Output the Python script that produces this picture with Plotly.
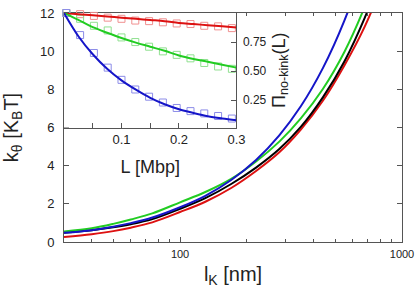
import plotly.graph_objects as go

# ---- main panel data: k_theta vs l_K ----
lk = [30, 40, 50, 60, 75, 100, 130, 170, 220, 280, 350, 440, 550, 680, 850]
k_red = [0.26, 0.41, 0.57, 0.75, 1.03, 1.57, 2.11, 2.83, 3.72, 4.70, 5.89, 7.40, 9.25, 11.3, 14.0]
k_black = [0.49, 0.62, 0.77, 0.93, 1.20, 1.74, 2.30, 3.04, 3.90, 4.87, 6.03, 7.58, 9.46, 11.76, 14.7]
k_green = [0.55, 0.72, 0.95, 1.18, 1.50, 2.08, 2.62, 3.31, 4.22, 5.26, 6.48, 8.02, 9.96, 12.34, 15.4]
k_blue = [0.48, 0.62, 0.80, 0.99, 1.28, 1.82, 2.42, 3.25, 4.30, 5.59, 7.11, 9.11, 11.6, 14.6, 18.4]

# ---- inset data: Pi_no-kink vs L ----
L_line = [0, 0.025, 0.05, 0.075, 0.1, 0.125, 0.15, 0.175, 0.2, 0.225, 0.25, 0.275, 0.3]
pi_blue = [1.0, 0.80, 0.645, 0.52, 0.42, 0.34, 0.27, 0.215, 0.172, 0.14, 0.112, 0.093, 0.078]
pi_green = [1.0, 0.94, 0.878, 0.83, 0.785, 0.745, 0.71, 0.675, 0.635, 0.605, 0.58, 0.555, 0.53]
pi_red = [1.0, 0.99, 0.98, 0.97, 0.96, 0.95, 0.94, 0.93, 0.915, 0.905, 0.895, 0.885, 0.875]

L_sim = [0.004, 0.028, 0.052, 0.076, 0.1, 0.124, 0.148, 0.172, 0.196, 0.22, 0.244, 0.268, 0.292]
sim_blue = [1.0, 0.81, 0.656, 0.53, 0.425, 0.342, 0.28, 0.23, 0.183, 0.156, 0.136, 0.114, 0.092]
sim_green = [1.0, 0.95, 0.89, 0.85, 0.79, 0.75, 0.71, 0.67, 0.64, 0.61, 0.57, 0.54, 0.52]
sim_red = [1.0, 0.99, 0.975, 0.96, 0.95, 0.935, 0.93, 0.92, 0.91, 0.905, 0.89, 0.885, 0.87]

x_major = [100, 1000]
x_minor = [40, 50, 60, 70, 80, 90, 200, 300, 400, 500, 600, 700, 800, 900]

RED, BLACK, GREEN, BLUE = "#dd1111", "#000000", "#22cc22", "#1515c8"
LRED, LGREEN, LBLUE = "#f09090", "#90e090", "#8c8ce8"
AX = "#555555"
FONT = "Liberation Sans, Arial, sans-serif"

fig = go.Figure()

for y, c in [(k_red, RED), (k_black, BLACK), (k_green, GREEN), (k_blue, BLUE)]:
    fig.add_trace(go.Scatter(x=lk, y=y, mode="lines", line=dict(color=c, width=2, shape="spline"),
                             showlegend=False, xaxis="x", yaxis="y"))

for y, c in [(sim_red, LRED), (sim_green, LGREEN), (sim_blue, LBLUE)]:
    fig.add_trace(go.Scatter(x=L_sim, y=y, mode="markers",
                             marker=dict(symbol="square-open", size=7, color=c, line=dict(width=1)),
                             cliponaxis=False, showlegend=False, xaxis="x2", yaxis="y2"))
for y, c in [(pi_red, RED), (pi_green, GREEN), (pi_blue, BLUE)]:
    fig.add_trace(go.Scatter(x=L_line, y=y, mode="lines", line=dict(color=c, width=2, shape="spline"),
                             cliponaxis=False, showlegend=False, xaxis="x2", yaxis="y2"))

fig.update_layout(
    width=420, height=294,
    margin=dict(l=64, r=17, t=6, b=52),
    paper_bgcolor="white", plot_bgcolor="white",
    font=dict(family=FONT, color="#222222"),
    xaxis=dict(type="log", range=[1.4771, 3.0], domain=[0, 1],
               tickmode="array", tickvals=x_major, ticktext=["100", "1000"],
               ticks="inside", ticklen=5, tickcolor=AX, ticklabeloverflow="allow",
               minor=dict(tickmode="array", tickvals=x_minor, ticks="inside", ticklen=3, tickcolor=AX),
               showline=True, linecolor=AX, linewidth=1, mirror="ticks",
               showgrid=False, zeroline=False, tickfont=dict(size=11, color="#222222"), ticklabelstandoff=2,
               title=dict(text="l<sub>K</sub> [nm]", font=dict(size=20), standoff=7)),
    yaxis=dict(range=[0, 12], dtick=2, domain=[0, 1],
               ticks="inside", ticklen=5, tickcolor=AX, ticklabeloverflow="allow",
               showline=True, linecolor=AX, linewidth=1, mirror="ticks",
               showgrid=False, zeroline=False, tickfont=dict(size=13), ticklabelstandoff=6,
               title=dict(text="k<sub>θ</sub> [K<sub>B</sub>T]", font=dict(size=20), standoff=19)),
    xaxis2=dict(range=[0, 0.3], domain=[0, 0.5103], anchor="y2",
                tickmode="array", tickvals=[0.1, 0.2, 0.3], ticktext=["0.1", "0.2", "0.3"],
                ticks="inside", ticklen=5, tickcolor=AX,
                minor=dict(tickmode="array", tickvals=[0.05, 0.15, 0.25], ticks="inside", ticklen=5, tickcolor=AX),
                showline=True, linecolor=AX, linewidth=1,
                showgrid=False, zeroline=False, tickfont=dict(size=13),
                title=dict(text="L [Mbp]", font=dict(size=18), standoff=14)),
    yaxis2=dict(range=[0.015, 1.0], domain=[0.5, 1], anchor="x2", side="right",
                tickmode="array", tickvals=[0.25, 0.5, 0.75], ticktext=["0.25", "0.50", "0.75"],
                ticks="inside", ticklen=5, tickcolor=AX,
                showline=True, linecolor=AX, linewidth=1,
                showgrid=False, zeroline=False, tickfont=dict(size=12), ticklabelstandoff=3,
                title=dict(text="Π<sub>no-kink</sub>(L)", font=dict(size=18), standoff=6)),
)

fig.write_html("out.html", config={"displayModeBar": False},
               post_script="document.body.style.margin='0';document.body.style.overflow='hidden';")
